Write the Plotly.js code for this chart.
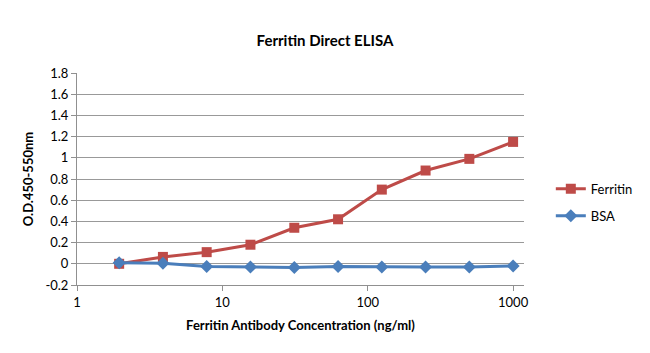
<!DOCTYPE html>
<html><head><meta charset="utf-8">
<script src="https://cdn.plot.ly/plotly-3.0.1.min.js"></script>
<style>body{margin:0;background:#fff}#c{width:650px;height:353px}</style>
</head><body><div id="c"></div>
<script>
const concentrations = [1.95, 3.9, 7.8, 15.6, 31.25, 62.5, 125, 250, 500, 1000];
const ferritin = [0.0, 0.065, 0.11, 0.18, 0.34, 0.42, 0.70, 0.88, 0.99, 1.15];
const bsa = [0.01, 0.005, -0.025, -0.03, -0.035, -0.025, -0.03, -0.03, -0.03, -0.02];
const yTicks = [-0.2, 0, 0.2, 0.4, 0.6, 0.8, 1, 1.2, 1.4, 1.6, 1.8];
const xTicks = [1, 10, 100, 1000];

const font = "Lato, 'Open Sans', sans-serif";
const traces = [
  {x: concentrations, y: ferritin, name: 'Ferritin', mode: 'lines+markers', legendgroup: 'a',
   line: {color: '#BE4B48', width: 3}, marker: {symbol: 'square', size: 10, color: '#BE4B48'}},
  {x: concentrations, y: bsa, name: 'BSA', mode: 'lines+markers', legendgroup: 'b',
   line: {color: '#4A7EBB', width: 3}, marker: {symbol: 'diamond', size: 10, color: '#4A7EBB'}}
];
const layout = {
  width: 650, height: 353,
  margin: {l: 77, r: 126, t: 73, b: 68},
  paper_bgcolor: '#fff', plot_bgcolor: '#fff',
  font: {family: font, size: 13, color: '#000'},
  title: {text: '<b>Ferritin Direct ELISA</b>', x: 0.5, xanchor: 'center', y: 0.885, yanchor: 'middle',
          font: {family: font, size: 15, color: '#000'}},
  xaxis: {type: 'log', range: [0, 3.075], tickvals: xTicks, ticktext: xTicks.map(String),
          showgrid: false, zeroline: false, showline: true, linecolor: '#909090', linewidth: 1,
          ticks: 'outside', ticklen: 5, tickcolor: '#909090',
          title: {text: '<b>Ferritin Antibody Concentration (ng/ml)</b>', font: {family: font, size: 13}, standoff: 12},
          tickfont: {family: font, size: 13}},
  yaxis: {range: [-0.2, 1.8], tickvals: yTicks, ticktext: yTicks.map(String),
          showgrid: true, gridcolor: '#999999', gridwidth: 1, zeroline: false,
          showline: true, linecolor: '#909090', linewidth: 1, ticks: 'outside', ticklen: 5, tickcolor: '#909090',
          title: {text: '<b>O.D.450-550nm</b>', font: {family: font, size: 13}, standoff: 8},
          tickfont: {family: font, size: 13}},
  legend: {x: 1.06, y: 0.39, xanchor: 'left', yanchor: 'middle', font: {family: font, size: 13},
           bgcolor: 'rgba(0,0,0,0)', tracegroupgap: 7, itemwidth: 30},
  showlegend: true
};
Plotly.newPlot('c', traces, layout, {displayModeBar: false, staticPlot: true});
</script></body></html>
